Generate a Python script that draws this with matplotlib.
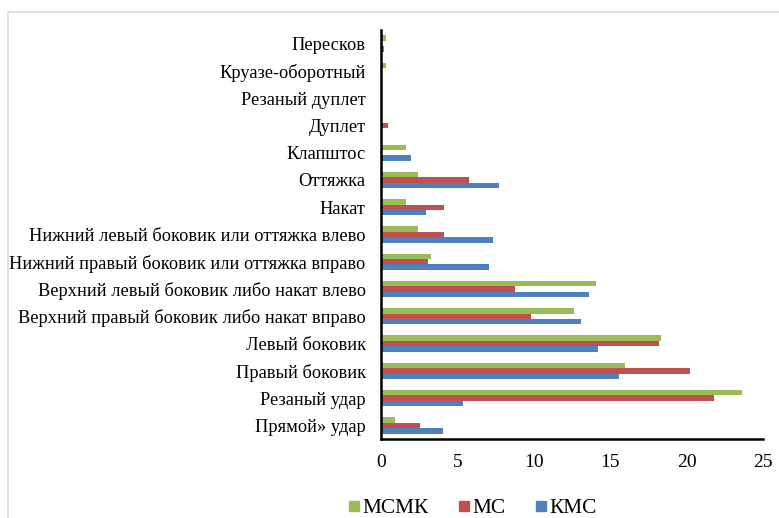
import numpy as np
import matplotlib.pyplot as plt
from matplotlib.patches import Rectangle
from matplotlib.lines import Line2D

# DATA (bottom to top)
categories = ['Прямой» удар', 'Резаный удар', 'Правый боковик', 'Левый боковик',
              'Верхний правый боковик либо накат вправо',
              'Верхний левый боковик либо накат влево',
              'Нижний правый боковик или оттяжка вправо',
              'Нижний левый боковик или оттяжка влево',
              'Накат', 'Оттяжка', 'Клапштос', 'Дуплет', 'Резаный дуплет',
              'Круазе-оборотный', 'Пересков']
msmk = [0.9, 23.6, 15.95, 18.3, 12.6, 14.1, 3.25, 2.45, 1.65, 2.45, 1.65, 0.0, 0.0, 0.35, 0.35]
ms = [2.55, 21.8, 20.2, 18.2, 9.8, 8.8, 3.05, 4.15, 4.15, 5.75, 0.0, 0.45, 0.0, 0.0, 0.0]
kms = [4.05, 5.35, 15.6, 14.2, 13.1, 13.6, 7.1, 7.35, 2.95, 7.75, 1.95, 0.0, 0.0, 0.0, 0.2]
series_names = ['МСМК', 'МС', 'КМС']
series_colors = ['#9BBB59', '#C0504D', '#4F81BD']
x_ticks = [0, 5, 10, 15, 20, 25]

plt.rcParams['font.family'] = ['Liberation Serif', 'DejaVu Serif']

fig = plt.figure(figsize=(7.79, 5.18), dpi=100)
ax = fig.add_axes([381 / 779, 1 - 439 / 518, (763 - 381) / 779, (439 - 30) / 518])

# LIGHT FRAME AROUND CHART AREA
fig.patches.append(Rectangle((8 / 779, -0.1), 1.2, 1 - 12 / 518 + 0.1,
                             transform=fig.transFigure, fill=False,
                             edgecolor='#D9D9D9', linewidth=1.2))

y = np.arange(len(categories))
h = 0.2
for vals, name, col, off in zip([msmk, ms, kms], series_names, series_colors, [h, 0, -h]):
    ax.barh(y + off, vals, height=h, color=col, label=name)

ax.set_xlim(0, 25)
ax.set_ylim(-0.5, len(categories) - 0.5)
ax.set_xticks(x_ticks)
ax.set_yticks(y)
ax.set_yticklabels(categories, fontsize=13.2)
ax.tick_params(axis='x', labelsize=14, length=0, pad=11)
ax.tick_params(axis='y', length=0, pad=11)
for s in ['top', 'right']:
    ax.spines[s].set_visible(False)
ax.spines['left'].set_linewidth(1.8)
ax.spines['bottom'].set_linewidth(1.8)

# LEGEND WITH SQUARE MARKERS
handles = [Line2D([], [], marker='s', linestyle='none', color=c, markersize=6.5)
           for c in series_colors]
ax.legend(handles, series_names, loc='center', bbox_to_anchor=(473 / 779, 1 - 508 / 518),
          bbox_transform=fig.transFigure, ncol=3, frameon=False, fontsize=15.4,
          handlelength=0.45, handletextpad=0.2, columnspacing=1.4, borderpad=0.1)

fig.savefig('out.png', dpi=100)
